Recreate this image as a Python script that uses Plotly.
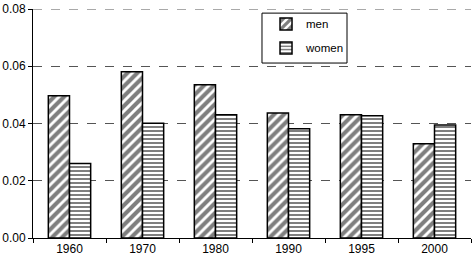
import plotly.graph_objects as go

years = ["1960", "1970", "1980", "1990", "1995", "2000"]
men = [0.0497, 0.0581, 0.0535, 0.0437, 0.0431, 0.0329]
women = [0.0260, 0.0401, 0.0431, 0.0382, 0.0427, 0.0395]

fig = go.Figure()
fig.add_bar(name="men", x=years, y=men, legendgroup="m",
            marker=dict(color="white", line=dict(color="black", width=1.5),
                        pattern=dict(shape="/", fgcolor="black", bgcolor="white",
                                     size=7, solidity=0.58, fillmode="overlay")))
fig.add_bar(name="women", x=years, y=women, legendgroup="w",
            marker=dict(color="white", line=dict(color="black", width=1.5),
                        pattern=dict(shape="-", fgcolor="black", bgcolor="white",
                                     size=4, solidity=0.5, fillmode="overlay")))

fig.update_layout(
    width=472, height=264,
    margin=dict(l=33, r=1, t=9, b=26),
    paper_bgcolor="white", plot_bgcolor="white",
    font=dict(family="Liberation Sans, Arial, sans-serif", size=12, color="black"),
    barmode="group", bargap=0.42, bargroupgap=0,
    showlegend=True,
    legend=dict(x=0.532, y=0.998, xanchor="left", yanchor="top",
                borderwidth=0, bgcolor="rgba(0,0,0,0)",
                font=dict(size=11.5), itemwidth=30, traceorder="grouped",
                tracegroupgap=5),
    shapes=[
        dict(type="line", xref="paper", yref="y", x0=0, x1=1, y0=0.08, y1=0.08,
             line=dict(color="#555555", width=1, dash="dash"), layer="below"),
        dict(type="rect", xref="paper", yref="paper", x0=0.5228, x1=0.7169,
             y0=0.764, y1=0.982, line=dict(color="black", width=1),
             fillcolor="white", layer="below"),
    ],
)
fig.update_xaxes(showline=True, linecolor="black", linewidth=1,
                 ticks="outside", tickson="boundaries", ticklen=4, tickcolor="black",
                 showgrid=False)
fig.update_yaxes(range=[0, 0.08], tickvals=[0, 0.02, 0.04, 0.06, 0.08], tickformat=".2f",
                 showline=True, linecolor="black", linewidth=1,
                 ticks="outside", ticklen=4, tickcolor="black",
                 showgrid=True, gridcolor="#555555", griddash="dash", gridwidth=1,
                 zeroline=False)
fig.write_html("out.html", config={"displayModeBar": False},
               post_script="document.body.style.margin='0';document.body.style.overflow='hidden';")
